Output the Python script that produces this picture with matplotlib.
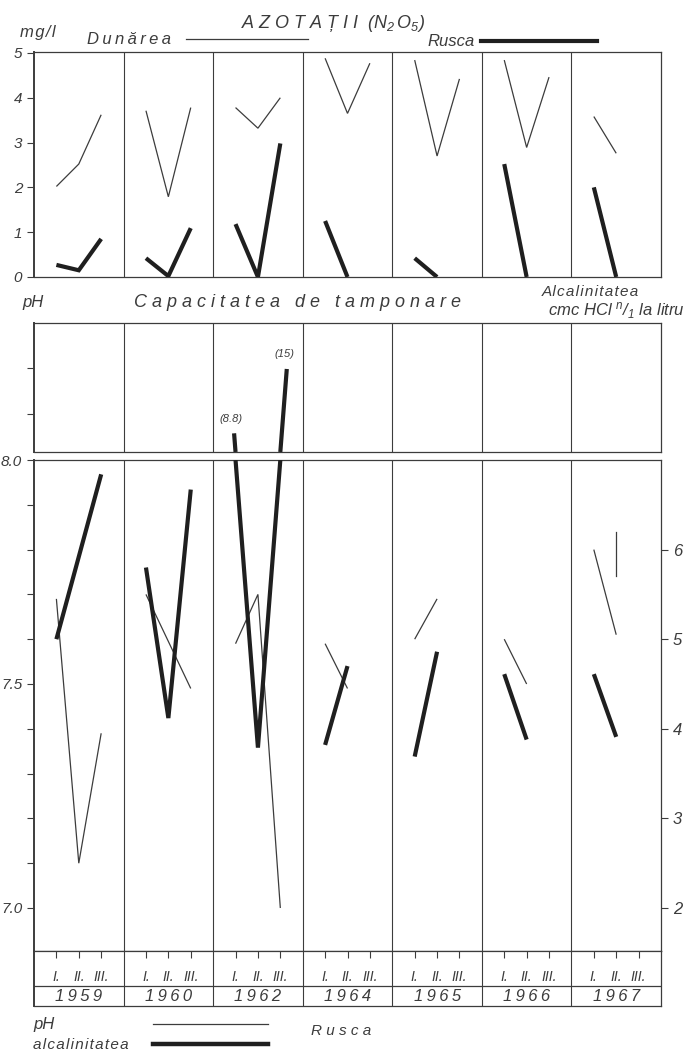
import matplotlib.pyplot as plt
from matplotlib.lines import Line2D
from matplotlib.ticker import FixedLocator, FuncFormatter, NullFormatter

plt.rcParams['font.family'] = ['Liberation Sans', 'DejaVu Sans']
plt.rcParams['font.style'] = 'italic'
plt.rcParams['mathtext.fontset'] = 'custom'
plt.rcParams['mathtext.rm'] = 'Liberation Sans:italic'
plt.rcParams['mathtext.it'] = 'Liberation Sans:italic'

INK = '#3c3c3c'
DARK = '#1f1f1f'
THIN_SP = '\u2009'
HAIR_SP = '\u200a'

years = ['1959', '1960', '1962', '1964', '1965', '1966', '1967']
periods = ['I.', 'II.', 'III.']

# azotati (N2O5), mg/l, sampling periods I, II, III of each year
no3_dunarea = [[2.02, 2.52, 3.62], [3.71, 1.79, 3.78], [3.78, 3.32, 4.00],
               [4.88, 3.65, 4.77], [4.84, 2.70, 4.42], [4.84, 2.89, 4.46],
               [3.58, 2.76, None]]
no3_rusca = [[0.27, 0.15, 0.85], [0.42, 0.02, 1.09], [1.18, 0.0, 2.98],
             [1.25, 0.0, None], [0.42, 0.0, None], [2.52, 0.0, None],
             [2.00, 0.0, None]]

# capacitatea de tamponare, Rusca: pH and alcalinitatea (cmc HCl n/1 la litru)
ph_rusca = [[7.69, 7.10, 7.39], [7.70, None, 7.49], [7.59, 7.70, 7.00],
            [7.59, 7.49, None], [7.60, 7.69, None], [7.60, 7.50, None],
            [7.80, 7.61, None]]
ph_rusca_1967_extra = [7.74, 7.84]
alk_rusca = [[5.00, None, 6.84], [5.80, 4.12, 6.67], [8.8, 3.79, 15],
             [3.82, 4.70, None], [3.69, 4.86, None], [4.61, 3.88, None],
             [4.61, 3.91, None]]

W, H = 686, 1055
fig = plt.figure(figsize=(W / 100, H / 100), dpi=100)


def px(x, y):
    return x / W, 1 - y / H


def spaced(s, sep):
    return sep.join(s)


def box(top, bottom, left=34, right=661):
    ax = fig.add_axes([left / W, 1 - bottom / H, (right - left) / W, (bottom - top) / H])
    ax.set_xlim(0, 4 * len(years))
    ax.set_xticks([])
    for s in ax.spines.values():
        s.set_color(INK)
        s.set_linewidth(0.9)
    ax.spines['left'].set_linewidth(1.4)
    for k in range(1, len(years)):
        ax.axvline(4 * k, color=INK, lw=0.8)
    ax.tick_params(axis='y', colors=INK, labelsize=11, direction='out', length=5, width=0.8)
    return ax


def draw_years(ax, values, lw, color, top=None):
    for k, vals in enumerate(values):
        pts = [(4 * k + i + 1, v if top is None else min(v, top))
               for i, v in enumerate(vals) if v is not None]
        xs, ys = zip(*pts)
        ax.plot(xs, ys, color=color, lw=lw, solid_capstyle='butt',
                solid_joinstyle='miter')


# ---- azotati ----
ax_no3 = box(52, 277)
ax_no3.set_ylim(0, 5.02)
ax_no3.set_yticks(range(6))
draw_years(ax_no3, no3_dunarea, 0.9, INK)
draw_years(ax_no3, no3_rusca, 3.0, DARK)

# ---- capacitatea de tamponare: break box above pH 8.0 ----
alk_top = 7.0
ax_hi = box(323, 452)
ax_hi.set_ylim(alk_top, 19.43)
ax_hi.set_yticks([10.66, 15.1])
ax_hi.yaxis.set_major_formatter(NullFormatter())

ax_ph = box(460, 951)
ax_ph.set_ylim(6.904, 8.0)
ax_ph.yaxis.set_major_locator(FixedLocator([7.0 + 0.1 * i for i in range(11)]))
ax_ph.yaxis.set_major_formatter(
    FuncFormatter(lambda v, p: f'{v:.1f}' if round(v * 10) % 5 == 0 else ''))

ax_alk = ax_ph.twinx()
ax_alk.set_ylim(2 + (6.904 - 7.0) * 5, alk_top)
ax_alk.set_yticks(range(2, 7))
ax_alk.tick_params(axis='y', colors=INK, labelsize=12, direction='out', length=5, width=0.8)
for s in ax_alk.spines.values():
    s.set_visible(False)

draw_years(ax_ph, ph_rusca, 0.9, INK)
ax_ph.plot([4 * 6 + 2, 4 * 6 + 2], ph_rusca_1967_extra, color=INK, lw=0.9)
draw_years(ax_alk, alk_rusca, 3.0, DARK, top=alk_top)

# values beyond the break continue the same stroke inside the upper box
for k, vals in enumerate(alk_rusca):
    for i, v in enumerate(vals):
        if v is None or v <= alk_top:
            continue
        x = 4 * k + i + 1
        nb = [j for j in (i - 1, i + 1)
              if 0 <= j < 3 and vals[j] is not None and vals[j] <= alk_top][0]
        p0 = ax_alk.transData.transform((4 * k + nb + 1, vals[nb]))
        p1 = ax_alk.transData.transform((x, alk_top))
        slope = (p1[0] - p0[0]) / (p1[1] - p0[1])
        q0 = ax_hi.transData.transform((x, alk_top))
        q1y = ax_hi.transData.transform((x, v))[1]
        x_end = ax_hi.transData.inverted().transform((q0[0] + slope * (q1y - q0[1]), q1y))[0]
        ax_hi.plot([x, x_end], [alk_top, v], color=DARK, lw=3.0, solid_capstyle='butt')
        ax_hi.annotate(f'({v:g})', (x_end, v), xytext=(-2, 7), textcoords='offset points',
                       ha='center', va='bottom', fontsize=8, color=INK)

# ---- period / year rows ----
ax_lab = box(951, 1006)
ax_lab.set_ylim(55, 0)
ax_lab.set_yticks([])
ax_lab.axhline(35, color=INK, lw=0.9)
ax_lab.set_xticks([4 * k + i + 1 for k in range(len(years)) for i in range(3)])
ax_lab.xaxis.set_major_formatter(NullFormatter())
ax_lab.tick_params(axis='x', top=True, bottom=False, direction='in', length=5, colors=INK)
for k, yr in enumerate(years):
    for i, p in enumerate(periods):
        ax_lab.text(4 * k + i + 1, 26, p, ha='center', va='center', fontsize=10, color=INK)
    ax_lab.text(4 * k + 2, 45.5, spaced(yr, THIN_SP), ha='center', va='center',
                fontsize=12, color=INK)

# ---- headings and legends ----
fig.text(*px(333, 23), r'A Z O T A Ț I I  $(N_2\,O_5)$', ha='center', va='center',
         fontsize=13, color=INK)
fig.text(*px(20, 33), spaced('mg/l', HAIR_SP), ha='left', va='center', fontsize=12, color=INK)
fig.text(*px(87, 40), spaced('Dunărea', THIN_SP), ha='left', va='center', fontsize=12,
         color=INK)
fig.text(*px(427, 41), 'Rusca', ha='left', va='center', fontsize=12, color=INK)
fig.add_artist(Line2D([186 / W, 308 / W], [1 - 39 / H] * 2, color=INK, lw=0.9))
fig.add_artist(Line2D([481 / W, 597 / W], [1 - 41 / H] * 2, color=DARK, lw=3.0))

fig.text(*px(22, 303), 'pH', ha='left', va='center', fontsize=12, color=INK)
fig.text(*px(297, 302), 'C a p a c i t a t e a   d e   t a m p o n a r e', ha='center',
         va='center', fontsize=13, color=INK)
fig.text(*px(590, 292), spaced('Alcalinitatea', HAIR_SP), ha='center', va='center',
         fontsize=11, color=INK)
fig.text(*px(685, 311), r'cmc HCl $^{n}/_{1}$ la litru', ha='right', va='center',
         fontsize=12, color=INK)

fig.text(*px(33, 1024), 'pH', ha='left', va='center', fontsize=12, color=INK)
fig.text(*px(33, 1045), spaced('alcalinitatea', HAIR_SP), ha='left', va='center',
         fontsize=11, color=INK)
fig.text(*px(311, 1031), 'R u s c a', ha='left', va='center', fontsize=11, color=INK)
fig.add_artist(Line2D([153 / W, 268 / W], [1 - 1024 / H] * 2, color=INK, lw=0.9))
fig.add_artist(Line2D([153 / W, 268 / W], [1 - 1044 / H] * 2, color=DARK, lw=3.2))

fig.savefig('out.png', dpi=100, facecolor='white')
